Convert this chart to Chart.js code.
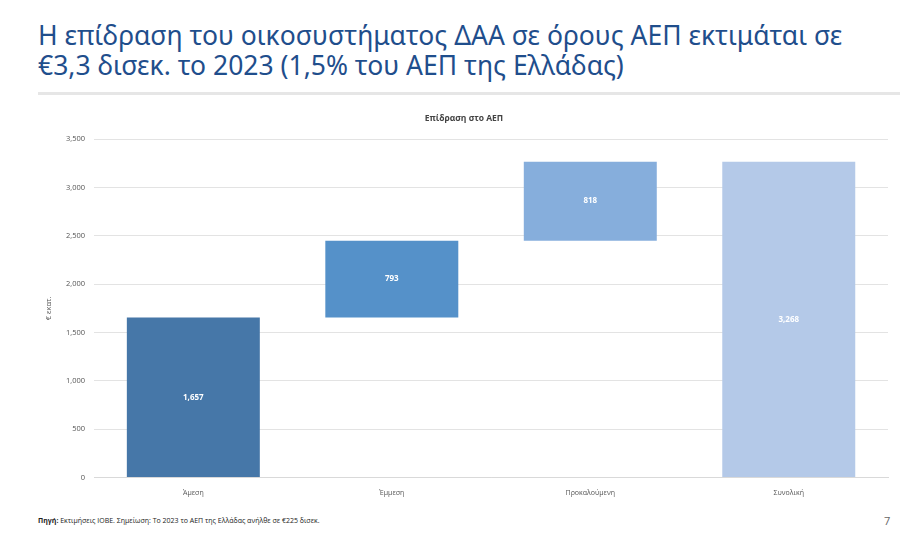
<!DOCTYPE html>
<html><head><meta charset="utf-8">
<script src="https://cdn.jsdelivr.net/npm/chart.js@4"></script>
<style>
body{margin:0;width:924px;height:542px;background:#fff;font-family:"Open Sans",sans-serif;position:relative;overflow:hidden}
#title{position:absolute;left:38px;top:20px;font-size:26.5px;line-height:30px;color:#1f4e8c;font-family:"Noto Sans",sans-serif}
#rule{position:absolute;left:38px;top:92px;width:862px;height:3px;background:#e6e6e6}
#wrap{position:absolute;left:40px;top:113px;width:860px;height:387px}
#foot{position:absolute;left:38px;top:516px;font-size:7px;color:#222}
#page{position:absolute;left:884px;top:513px;font-size:11px;color:#666}
</style></head><body>
<div id="title">Η επίδραση του οικοσυστήματος ΔΑΑ σε όρους ΑΕΠ εκτιμάται σε<br>€3,3 δισεκ. το 2023 (1,5% του ΑΕΠ της Ελλάδας)</div>
<div id="rule"></div>
<div id="wrap"><canvas id="c"></canvas></div>
<div id="foot"><b>Πηγή:</b> Εκτιμήσεις ΙΟΒΕ. Σημείωση: Το 2023 το ΑΕΠ της Ελλάδας ανήλθε σε €225 δισεκ.</div>
<div id="page">7</div>
<script>
// categories and values (εκατ. €)
const categories = ['Άμεση', 'Έμμεση', 'Προκαλούμενη', 'Συνολική'];
const barStart = [0, 1657, 2450, 0];
const barEnd = [1657, 2450, 3268, 3268];
const barLabels = ['1,657', '793', '818', '3,268'];
const barColors = ['#4677a8', '#5591c9', '#86aedc', '#b4c9e8'];
const yTicks = [0, 500, 1000, 1500, 2000, 2500, 3000, 3500];

const labelPlugin = {
  id: 'barText',
  afterDatasetsDraw(chart) {
    const ctx = chart.ctx;
    chart.getDatasetMeta(0).data.forEach((bar, i) => {
      ctx.save();
      ctx.fillStyle = '#fff';
      ctx.font = 'bold 8px "Open Sans"';
      ctx.textAlign = 'center';
      ctx.textBaseline = 'middle';
      ctx.fillText(barLabels[i], bar.x, (bar.y + bar.base) / 2);
      ctx.restore();
    });
  }
};

new Chart(document.getElementById('c'), {
  type: 'bar',
  data: {
    labels: categories,
    datasets: [{
      data: barStart.map((s, i) => [s, barEnd[i]]),
      backgroundColor: barColors,
      categoryPercentage: 1,
      barPercentage: 0.67
    }]
  },
  options: {
    responsive: true,
    maintainAspectRatio: false,
    animation: false,
    layout: { padding: { left: 0, right: 12 } },
    plugins: {
      legend: { display: false },
      tooltip: { enabled: false },
      title: { display: true, text: 'Επίδραση στο ΑΕΠ', color: '#444', font: { size: 8.5, weight: 'bold', family: 'Open Sans' }, padding: { top: 0, bottom: 16 } }
    },
    scales: {
      x: {
        grid: { display: false },
        border: { color: '#d9d9d9' },
        ticks: { color: '#555', font: { size: 7, family: 'Open Sans' } }
      },
      y: {
        min: 0, max: 3500,
        afterBuildTicks: ax => { ax.ticks = yTicks.map(v => ({ value: v })); },
        grid: { color: '#e3e3e3', drawTicks: false },
        border: { display: false },
        ticks: { color: '#555', padding: 9, font: { size: 7.5, family: 'Open Sans' }, callback: v => v.toLocaleString('en-US') },
        title: { display: true, text: '€ εκατ.', color: '#555', font: { size: 7.5, family: 'Open Sans' } }
      }
    }
  },
  plugins: [labelPlugin]
});
</script>
</body></html>
